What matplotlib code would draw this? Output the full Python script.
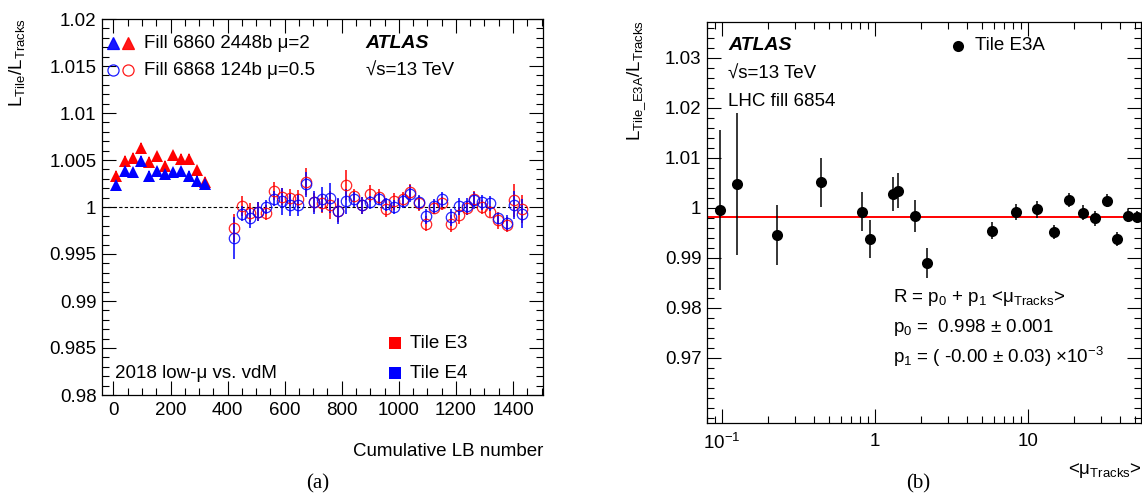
import matplotlib
matplotlib.use("Agg")
import numpy as np
import matplotlib.pyplot as plt
from matplotlib.ticker import MultipleLocator, LogLocator, FixedLocator, FixedFormatter, NullFormatter

plt.rcParams['font.family'] = ['Liberation Sans', 'DejaVu Sans']
plt.rcParams['mathtext.fontset'] = 'custom'
plt.rcParams['mathtext.rm'] = 'Liberation Sans'
plt.rcParams['mathtext.it'] = 'Liberation Sans:italic'
plt.rcParams['mathtext.bf'] = 'Liberation Sans:bold'
plt.rcParams['mathtext.default'] = 'regular'

# ---- panel (a): Fill 6860 (triangles) ----
lb_6860 = [10, 39, 67, 96, 124, 152, 180, 208, 236, 264, 292, 321]
e3_6860 = [1.0033, 1.0049, 1.0052, 1.0063, 1.0048, 1.0054, 1.0044, 1.0055, 1.0051, 1.0051, 1.0039, 1.0027]
e4_6860 = [1.0023, 1.0038, 1.0037, 1.0049, 1.0033, 1.0038, 1.0035, 1.0037, 1.0038, 1.0033, 1.0028, 1.0024]
err_6860 = [0.0005] * 12

# ---- panel (a): Fill 6868 (open circles) ----
lb_6868 = [422, 451, 478, 506, 533, 562, 591, 618, 648, 676, 702, 730, 760, 786, 816, 843, 872,
           900, 929, 956, 984, 1013, 1040, 1069, 1096, 1124, 1150, 1182, 1209, 1238, 1265, 1293,
           1320, 1349, 1378, 1405, 1433]
e3_6868 = [0.9978, 1.0001, 0.9994, 0.9995, 0.9994, 1.0017, 1.0011, 1.0010, 1.0009, 1.0027, 1.0005,
           1.0004, 1.0002, 0.9996, 1.0023, 1.0012, 1.0002, 1.0014, 1.0011, 0.9998, 1.0006, 1.0008,
           1.0016, 1.0004, 0.9982, 0.9999, 1.0004, 0.9982, 0.9991, 0.9999, 1.0009, 1.0000, 0.9995,
           0.9986, 0.9981, 1.0007, 0.9998]
e4_6868 = [0.9967, 0.9993, 0.9988, 0.9995, 1.0000, 1.0009, 1.0006, 1.0002, 1.0002, 1.0024, 1.0005,
           1.0008, 1.0010, 0.9996, 1.0006, 1.0008, 1.0002, 1.0005, 1.0009, 1.0003, 1.0000, 1.0006,
           1.0014, 1.0005, 0.9990, 1.0001, 1.0008, 0.9989, 1.0001, 1.0001, 1.0007, 1.0005, 1.0004,
           0.9988, 0.9983, 1.0002, 0.9993]
e3_6868_err = [0.0015, 0.0011, 0.0010, 0.0010, 0.0008, 0.0010, 0.0009, 0.0009, 0.0009, 0.0014, 0.0010,
               0.0010, 0.0015, 0.0012, 0.0016, 0.0007, 0.0009, 0.0009, 0.0008, 0.0009, 0.0009, 0.0008,
               0.0008, 0.0008, 0.0008, 0.0006, 0.0007, 0.0009, 0.0009, 0.0007, 0.0008, 0.0007, 0.0006,
               0.0009, 0.0008, 0.0018, 0.0015]
e4_6868_err = [0.0022, 0.0008, 0.0010, 0.0010, 0.0007, 0.0008, 0.0014, 0.0012, 0.0012, 0.0013, 0.0012,
               0.0013, 0.0016, 0.0014, 0.0013, 0.0008, 0.0009, 0.0007, 0.0007, 0.0007, 0.0007, 0.0007,
               0.0009, 0.0008, 0.0008, 0.0008, 0.0008, 0.0009, 0.0009, 0.0009, 0.0009, 0.0008, 0.0008,
               0.0006, 0.0009, 0.0015, 0.0015]

# ---- panel (b): Tile E3A vs <mu_Tracks> ----
mu_tracks = [0.098, 0.125, 0.230, 0.442, 0.819, 0.932, 1.318, 1.42, 1.845, 2.207, 5.88, 8.44,
             11.57, 14.86, 18.53, 22.98, 27.4, 32.97, 38.35, 44.9, 51.8]
ratio_e3a = [0.99964, 1.00478, 0.99464, 1.00510, 0.99930, 0.99384, 1.00278, 1.00350, 0.99844,
             0.98910, 0.99550, 0.99924, 0.99978, 0.99524, 1.00164, 0.99910, 0.99798, 1.00150,
             0.99390, 0.99850, 0.99830]
ratio_e3a_err = [0.0160, 0.0142, 0.0060, 0.0049, 0.0039, 0.0038, 0.0034, 0.0034, 0.0032, 0.0030,
                 0.0017, 0.0016, 0.0017, 0.0014, 0.0014, 0.0015, 0.0015, 0.0013, 0.0014, 0.0013,
                 0.0012]
fit_p0 = 0.9983
fit_p1 = 0.0

W, H = 1142, 497
RED, BLUE = '#ff0000', '#0000ff'
FS = 13.5

def fx(x):
    return x / W

def fy(y):
    return 1 - y / H

fig = plt.figure(figsize=(W / 100, H / 100), dpi=100)

def style_axes(ax):
    ax.tick_params(which='both', direction='in', top=True, right=True, labelsize=FS, width=0.8)
    ax.tick_params(which='major', length=10)
    ax.tick_params(which='minor', length=5)
    for s in ax.spines.values():
        s.set_linewidth(0.9)

# ================= panel (a) =================
axa = fig.add_axes([fx(102), fy(395), fx(441), 376 / H])
axa.axhline(1.0, xmin=0, xmax=(1450 + 40) / 1545, color='black', ls='--', lw=0.8, dashes=(3, 2))

axa.errorbar(lb_6860, e3_6860, yerr=err_6860, fmt='^', color=RED, ms=8, mew=0, elinewidth=1.3)
axa.errorbar(lb_6860, e4_6860, yerr=err_6860, fmt='^', color=BLUE, ms=8, mew=0, elinewidth=1.3)
axa.errorbar(lb_6868, e3_6868, yerr=e3_6868_err, fmt='o', color=RED, mfc='none', ms=7.5, mew=0.9,
             elinewidth=1.3, alpha=0.85)
axa.errorbar(lb_6868, e4_6868, yerr=e4_6868_err, fmt='o', color=BLUE, mfc='none', ms=7.5, mew=0.9,
             elinewidth=1.3, alpha=0.85)

axa.set_xlim(-40, 1505)
axa.set_ylim(0.98, 1.02)
axa.xaxis.set_major_locator(MultipleLocator(200))
axa.xaxis.set_minor_locator(MultipleLocator(50))
axa.yaxis.set_major_locator(MultipleLocator(0.005))
axa.yaxis.set_minor_locator(MultipleLocator(0.001))
axa.set_yticks([0.98, 0.985, 0.99, 0.995, 1.0, 1.005, 1.01, 1.015, 1.02])
axa.set_yticklabels(['0.98', '0.985', '0.99', '0.995', '1', '1.005', '1.01', '1.015', '1.02'])
style_axes(axa)
axa.tick_params(axis='x', pad=5)
axa.tick_params(axis='y', pad=4)

# legend of panel (a)
for (x, y, m, c, f) in [(113, 43, '^', BLUE, BLUE), (128, 43, '^', RED, RED),
                        (113, 70, 'o', BLUE, 'none'), (128, 70, 'o', RED, 'none')]:
    fig.add_artist(plt.Line2D([fx(x)], [fy(y)], marker=m, color=c, mfc=f, mew=0.9, ms=8,
                              transform=fig.transFigure, alpha=0.9))
fig.text(fx(144), fy(43), 'Fill 6860 2448b μ=2', fontsize=FS, va='center', ha='left')
fig.text(fx(144), fy(71), 'Fill 6868 124b μ=0.5', fontsize=FS, va='center', ha='left')
fig.text(fx(365), fy(43), 'ATLAS', fontsize=FS + 0.5, fontweight='bold', fontstyle='italic',
         va='center', ha='left')
fig.text(fx(366), fy(71), '√s=13 TeV', fontsize=FS, va='center', ha='left')

fig.add_artist(plt.Line2D([fx(395)], [fy(343)], marker='s', color=RED, ms=9, mew=0,
                          transform=fig.transFigure))
fig.add_artist(plt.Line2D([fx(395)], [fy(373)], marker='s', color=BLUE, ms=9, mew=0,
                          transform=fig.transFigure))
fig.text(fx(410), fy(343), 'Tile E3', fontsize=FS, va='center', ha='left')
fig.text(fx(410), fy(373), 'Tile E4', fontsize=FS, va='center', ha='left')
fig.text(fx(115), fy(373), '2018 low-μ vs. vdM', fontsize=FS, va='center', ha='left')

fig.text(fx(17), fy(18), 'L$_{Tile}$/L$_{Tracks}$', fontsize=FS, rotation=90, ha='center', va='top')
fig.text(fx(543), fy(452), 'Cumulative LB number', fontsize=FS, ha='right', va='center')
fig.text(fx(318), fy(484), '(a)', fontsize=15, family='Liberation Serif', ha='center', va='center')

# ================= panel (b) =================
axb = fig.add_axes([fx(707), fy(423), fx(434), 401 / H])
axb.set_xscale('log')
axb.set_xlim(0.08, 55)
axb.set_ylim(0.957, 1.0372)
xfit = np.array(axb.get_xlim())
axb.plot(xfit, fit_p0 + fit_p1 * xfit, color=RED, lw=1.4)
axb.errorbar(mu_tracks, ratio_e3a, yerr=ratio_e3a_err, fmt='o', color='black', ms=8, mew=0,
             elinewidth=1.1, clip_on=False)

axb.xaxis.set_major_locator(FixedLocator([0.1, 1, 10]))
axb.xaxis.set_major_formatter(FixedFormatter(['10$^{-1}$', '1', '10']))
axb.xaxis.set_minor_locator(LogLocator(base=10, subs=np.arange(2, 10)))
axb.xaxis.set_minor_formatter(NullFormatter())
axb.set_yticks([0.97, 0.98, 0.99, 1.0, 1.01, 1.02, 1.03])
axb.set_yticklabels(['0.97', '0.98', '0.99', '1', '1.01', '1.02', '1.03'])
axb.yaxis.set_minor_locator(MultipleLocator(0.002))
style_axes(axb)
axb.tick_params(axis='x', pad=7)
axb.tick_params(axis='y', pad=4)

fig.text(fx(728), fy(46), 'ATLAS', fontsize=FS + 0.5, fontweight='bold', fontstyle='italic',
         va='center', ha='left')
fig.text(fx(728), fy(74), '√s=13 TeV', fontsize=FS, va='center', ha='left')
fig.text(fx(728), fy(101), 'LHC fill 6854', fontsize=FS, va='center', ha='left')
fig.add_artist(plt.Line2D([fx(958)], [fy(46)], marker='o', color='black', ms=8, mew=0,
                          transform=fig.transFigure))
fig.text(fx(975), fy(46), 'Tile E3A', fontsize=FS, va='center', ha='left')

fig.text(fx(893), fy(297), 'R = p$_{0}$ + p$_{1}$ <μ$_{Tracks}$>', fontsize=FS, va='center', ha='left')
fig.text(fx(893), fy(327), 'p$_{0}$ =  0.998 ± 0.001', fontsize=FS, va='center', ha='left')
fig.text(fx(893), fy(357), 'p$_{1}$ = ( -0.00 ± 0.03) ×10$^{-3}$', fontsize=FS, va='center', ha='left')

fig.text(fx(637), fy(20), r'L$_{Tile\_E3A}$/L$_{Tracks}$', fontsize=FS, rotation=90,
         ha='center', va='top')
fig.text(fx(1142), fy(470), '<μ$_{Tracks}$>', fontsize=FS, ha='right', va='center')
fig.text(fx(918), fy(484), '(b)', fontsize=15, family='Liberation Serif', ha='center', va='center')

fig.savefig('out.png', dpi=100)
